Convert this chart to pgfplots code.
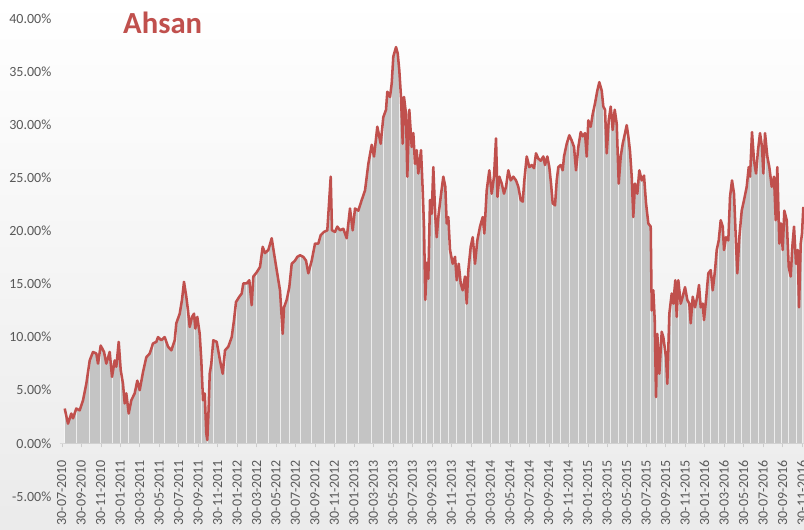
\documentclass[border=0pt]{standalone}
\usepackage{pgfplots}
\pgfplotsset{compat=1.18}
\usepackage{pgfplotstable}
\usepackage{fontspec}
\setmainfont{Carlito}
\definecolor{linered}{HTML}{C0504D}
\definecolor{bargray}{HTML}{C4C4C4}
\definecolor{labelgray}{HTML}{595959}

% px = horizontal position in the reference (converted to months since 30-07-2010 below), val = percent
\pgfplotstableread{
px val
64.7 3.27
68 1.85
71.3 2.8
73 2.35
76.3 3.27
79.7 3.1
83 4.05
86.3 5.6
89.7 7.8
93 8.6
96.3 8.45
98 7.5
100.7 9.2
104 8.6
106.3 7.5
109.7 8.6
112 6.25
114.7 7.8
116.3 7.2
118.7 9.55
120.7 6.9
123 5.6
124.7 3.75
126.3 4.7
128.7 2.8
131.3 4.05
134.7 4.7
137.3 5.9
139.7 5.0
143 6.7
146.3 8.1
149.7 8.45
153 9.4
156.3 9.55
158 10.0
161.3 9.7
164.7 10.0
168 9.1
171.3 8.75
174.7 9.7
176.3 11.3
179.7 12.2
182 13.5
184 15.2
186.3 13.8
188 12.5
189.7 10.95
192 11.9
194 12.2
195.3 10.8
197.3 11.9
199.7 10.3
201.3 7.8
203 4.05
204.7 4.7
206.3 0.9
207.3 0.3
208.7 3.4
209.7 6.55
211.3 7.5
213.3 9.7
216.7 9.55
220 7.8
222.7 6.55
225 8.75
228.3 9.1
231.7 10.0
234 11.6
236 13.3
239.3 13.8
241.7 14.1
243.3 15.05
246.7 15.05
249.3 15.35
251.7 13.0
253.3 15.7
256.7 16.1
260 16.6
262.7 18.5
265 17.9
268.3 18.2
271.7 19.3
274 17.9
276.7 16.3
280 14.4
282.7 10.3
284 12.8
286.7 13.5
289.3 14.7
291.7 16.9
295 17.2
297.3 17.55
300 17.7
303.3 17.55
306 17.2
308.3 16.0
311.7 17.2
315 18.8
318.3 18.8
320.7 19.6
324 19.9
327.3 20.05
330.7 25.1
332 20.05
335 19.9
337.3 20.4
340 20.05
343.3 20.2
346.7 19.3
350 22.1
352.7 20.05
355 22.1
358.3 21.9
361.7 22.9
365 23.8
368.3 26.3
371.7 28.1
374 27.0
377.3 29.8
380.7 28.2
383.3 30.7
386 31.4
387.3 33.1
390 32.6
391.7 33.9
393.3 36.4
396 37.3
397.7 36.7
399.3 35.1
401 32.6
402.7 28.2
404 32.6
406 31.0
407.3 25.1
409.3 31.4
411.7 27.9
413.3 29.2
415 26.3
416.7 27.6
418.3 25.4
421 27.6
422.7 23.8
424 20.4
425.3 13.5
426.7 17.0
428.3 15.5
430 22.9
431.7 21.6
433.3 26.0
435.3 21.3
436.7 19.4
438.3 21.3
440.7 23.2
443.3 25.1
445.3 24.15
446.7 20.7
448.3 21.3
450 18.2
452.7 16.9
455 17.55
456.7 15.35
458.7 16.9
460.7 15.05
462.7 14.4
465 15.7
466.7 13.15
468.3 16.3
470.7 18.5
472.7 19.4
475 16.9
477.3 19.1
480 20.4
482.7 21.3
484.3 19.75
486.7 23.8
489.3 25.7
491.7 23.5
494 25.1
496 28.7
497.5 23.2
499.3 25.1
501.7 24.45
504 23.5
506 24.15
508.3 25.7
510.7 24.75
513.3 25.1
516 24.75
518.3 24.15
520.7 22.9
522.7 22.75
524.3 24.75
526.7 27.0
529.3 26.0
531.7 26.2
534 25.9
536 27.3
538.3 26.8
540.7 26.6
543.3 27.0
545 26.2
547.3 27.0
549.3 26.0
551 24.45
552.7 22.6
555 22.4
556.7 24.75
558.3 26.0
560.7 26.2
562.7 25.7
564 27.0
566.7 28.2
569.3 29.0
571.7 28.5
574 27.9
576 25.7
578.3 27.9
580.7 29.3
582.7 28.9
585 29.2
586.7 27.0
588.3 30.4
590.7 29.8
592.7 31.0
595 32.0
597.3 33.2
599.3 34.0
601.7 33.2
603.3 31.7
605 31.4
606.7 27.3
608.7 30.4
610.7 31.7
612.7 29.5
614.7 31.4
616.7 30.1
618.7 24.45
620.7 27.0
622.7 28.2
625 29.2
626.7 29.95
628.3 28.9
630 27.5
631.7 25.1
633.3 21.3
635 24.45
637.3 23.5
639.3 25.7
641.7 24.75
644 25.2
646 22.6
648.3 20.7
650.7 20.4
651.7 12.5
653.3 14.4
654.7 11.6
656 4.35
657.3 10.3
659.3 6.55
661.7 10.5
663.3 10.0
666 8.1
667.3 5.6
669.3 12.2
671.7 14.1
673.3 13.15
675.3 15.35
676.7 11.9
678.3 15.35
680.7 13.15
682.7 13.8
685 14.7
687.3 13.5
689.3 13.15
690.7 11.3
692.7 13.8
695 12.8
697.3 13.8
699 14.9
700.7 12.8
702.7 13.15
704 11.6
706 13.5
708.3 16.0
710.7 16.3
712.7 14.4
715 16.3
716.7 18.2
718.7 19.1
720.7 21.0
722.7 20.4
724 18.2
726 19.4
728.3 19.1
730 23.2
732 24.75
734 23.5
736 18.8
737.3 16.0
739.3 19.4
741.7 21.9
744 22.9
746.7 24.15
748.7 26.0
750 25.1
752 29.3
754 26.6
756 25.4
758 27.6
760 29.2
762 27.9
763.3 25.4
765 29.2
767.3 27.0
769.3 26.0
771.7 24.15
774 25.1
775.7 21.0
777.3 26.0
779.3 18.8
781 20.7
782.7 18.2
784.3 21.9
786.7 21.0
788.7 16.6
790.7 15.7
792.3 18.5
794 20.4
796 16.9
797.7 18.2
799 12.8
800.7 18.8
802 19.75
803.3 22.25
}\ahsan

\begin{document}
\begin{tikzpicture}
\path[use as bounding box] (0,0) rectangle (603pt,396.75pt);
\fill[top color=white, bottom color=black!8] (0,0) rectangle (603pt,396.75pt);
\begin{axis}[
  at={(45pt,24.45pt)}, anchor=south west,
  scale only axis, width=558pt, height=358.5pt,
  xmin=-0.175, xmax=76.21, ymin=-5, ymax=40,
  axis x line*=middle, axis y line*=left,
  hide obscured x ticks=false, hide obscured y ticks=false,
  y axis line style={draw=none},
  x axis line style={draw=black!15},
  ytick={-5,0,5,10,15,20,25,30,35,40},
  yticklabels={-5.00\%,0.00\%,5.00\%,10.00\%,15.00\%,20.00\%,25.00\%,30.00\%,35.00\%,40.00\%},
  ytick style={draw=none},
  xtick={0,2,...,76},
  xticklabels={30-07-2010,30-09-2010,30-11-2010,
    30-01-2011,30-03-2011,30-05-2011,30-07-2011,30-09-2011,30-11-2011,
    30-01-2012,30-03-2012,30-05-2012,30-07-2012,30-09-2012,30-11-2012,
    30-01-2013,30-03-2013,30-05-2013,30-07-2013,30-09-2013,30-11-2013,
    30-01-2014,30-03-2014,30-05-2014,30-07-2014,30-09-2014,30-11-2014,
    30-01-2015,30-03-2015,30-05-2015,30-07-2015,30-09-2015,30-11-2015,
    30-01-2016,30-03-2016,30-05-2016,30-07-2016,30-09-2016,30-11-2016},
  xtick style={draw=black!20},
  tick align=outside, major tick length=3pt,
  xticklabel style={rotate=90, anchor=east, font=\fontsize{10.5}{12}\selectfont, text=labelgray, xshift=-6pt},
  yticklabel style={font=\fontsize{10.5}{12}\selectfont, text=labelgray},
]
\addplot[draw=none, fill=bargray] table[x expr=(\thisrow{px}-61.7)/9.74, y=val]{\ahsan} \closedcycle;
\addplot[ycomb, draw=white, line width=0.4pt, opacity=0.7, each nth point=4] table[x expr=(\thisrow{px}-61.7)/9.74, y=val]{\ahsan};
\addplot[linered, line width=1.9pt, line join=round] table[x expr=(\thisrow{px}-61.7)/9.74, y=val]{\ahsan};
\end{axis}
\node[font=\bfseries\fontsize{23}{28}\selectfont, text=linered] at (122pt,379.5pt) {Ahsan};
\end{tikzpicture}
\end{document}
